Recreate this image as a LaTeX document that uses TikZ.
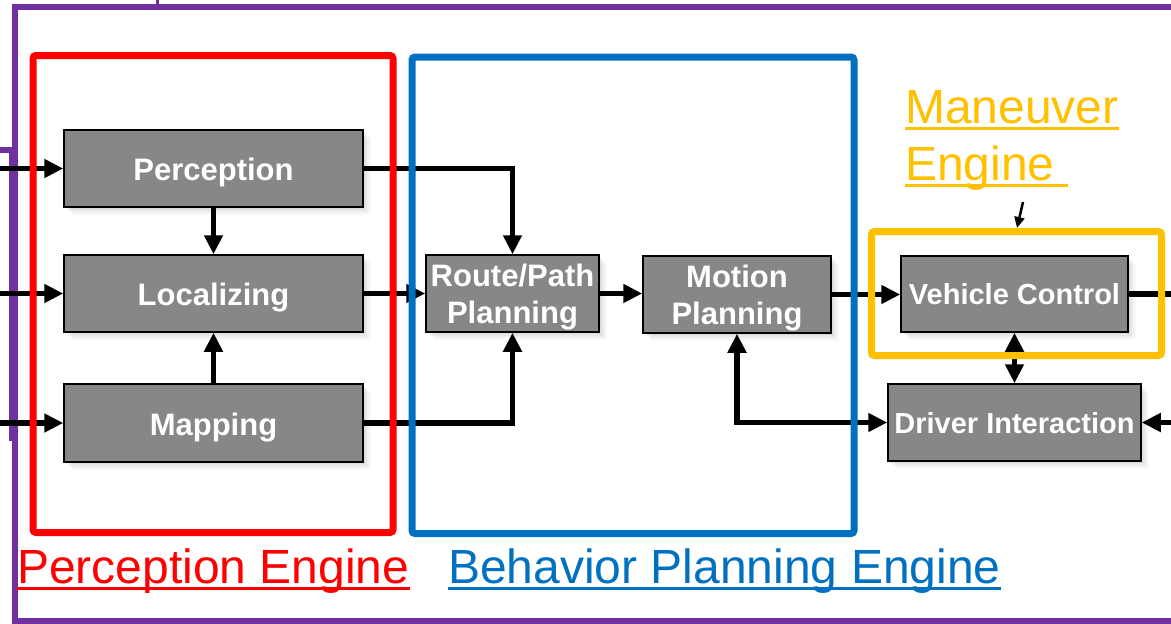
\documentclass[tikz,border=0pt]{standalone}
\usepackage{fontspec}
\usetikzlibrary{arrows.meta,shadows}
\newfontfamily\lsans{Liberation Sans}
\definecolor{boxgray}{RGB}{135,135,135}
\definecolor{engred}{RGB}{255,0,0}
\definecolor{engblue}{RGB}{0,112,192}
\definecolor{engyellow}{RGB}{255,192,0}
\definecolor{engpurple}{RGB}{112,48,160}
% one- and two-line block captions with a fixed box height, so that the
% capitals sit centred in the block
\newcommand\oneline[2][24pt]{\raisebox{0pt}[#1][0pt]{#2}}
\newcommand\twoline[2]{\raisebox{0pt}[60pt][0pt]{\begin{tabular}[b]{@{}c@{}}#1\\#2\end{tabular}}}
\begin{document}
\begin{tikzpicture}[x=1pt,y=-1pt,
  blk/.style={draw=black, line width=1.5pt, fill=boxgray, text=white,
    font=\lsans\bfseries\fontsize{31}{37}\selectfont, inner sep=0pt,
    drop shadow={opacity=0.10, shadow xshift=2pt, shadow yshift=-2pt},
    drop shadow={opacity=0.09, shadow xshift=4pt, shadow yshift=-4pt},
    drop shadow={opacity=0.07, shadow xshift=6pt, shadow yshift=-6pt},
    drop shadow={opacity=0.05, shadow xshift=8pt, shadow yshift=-8pt}},
  smallblk/.style={blk, font=\lsans\bfseries\fontsize{29}{35}\selectfont},
  conn/.style={draw=black, line width=5.5pt},
  arr/.style={conn, -{Triangle[length=19pt,width=18pt]}},
  darr/.style={conn, {Triangle[length=19pt,width=18pt]}-{Triangle[length=19pt,width=18pt]}},
  frame/.style={line width=7pt, rounded corners=3pt},
  lbl/.style={font=\lsans\fontsize{48}{57}\selectfont, inner sep=0pt, anchor=base west},
  ul/.style={line width=3pt},
]
\useasboundingbox (0,0) rectangle (1171,624);
\begin{scope}
\clip (0,0) rectangle (1171,624);

% outer system frame
\draw[engpurple, line width=6.5pt] (15,7) rectangle (1210,621);
\draw[engpurple, line width=3pt] (157,0) -- (157,7);
\draw[engpurple, line width=5.5pt] (0,150) -- (17,150);
\draw[engpurple, line width=5pt] (11,150) -- (11,441);

% processing blocks
\node[blk, minimum width=299pt, minimum height=77pt] (per) at (213.5,168.5) {\oneline{Perception}};
\node[blk, minimum width=299pt, minimum height=77pt] (loc) at (213.5,293.5) {\oneline{Localizing}};
\node[blk, minimum width=299pt, minimum height=78pt] (map) at (213.5,423) {\oneline{Mapping}};
\node[blk, minimum width=173pt, minimum height=77pt] (route) at (512.5,293.5) {\twoline{Route/Path}{Planning}};
\node[blk, minimum width=188pt, minimum height=77pt] (motion) at (737,294.5) {\twoline{Motion}{Planning}};
\node[smallblk, minimum width=227pt, minimum height=76pt] (vc) at (1014.5,294) {\oneline[21pt]{Vehicle Control}};
\node[smallblk, minimum width=253pt, minimum height=77pt] (di) at (1014.5,422.5) {\oneline[22pt]{Driver Interaction}};

% free ends of the external connectors
\coordinate (inP) at (0,168.5);
\coordinate (inL) at (0,293.5);
\coordinate (inM) at (0,423);
\coordinate (outVC) at (1180,294);
\coordinate (inDI) at (1180,422.5);
\coordinate (meFrom) at (1023,202);
\coordinate (meTo) at (1017,228);

% connectors
\draw[arr] (inP) -- (per.west);
\draw[arr] (inL) -- (loc.west);
\draw[arr] (inM) -- (map.west);
\draw[arr] (per.south) -- (loc.north);
\draw[arr] (map.north) -- (loc.south);
\draw[arr] (per.east) -| (route.north);
\draw[arr] (map.east) -| (route.south);
\draw[arr] (loc.east) -- (route.west);
\draw[arr] (route.east) -- (route.east -| motion.west);
\draw[arr] (motion.east) -- (motion.east -| vc.west);
\draw[conn] (vc.east) -- (outVC);
\draw[arr] (inDI) -- (di.east);
\draw[darr] (vc.south) -- (di.north);
\draw[darr] (motion.south) |- (di.west);
\draw[line width=2.5pt, -{Triangle[length=11pt,width=10pt]}] (meFrom) -- (meTo);

% engine frames
\draw[frame, engred] (33,55.5) rectangle (393,532.5);
\draw[frame, engblue] (412,57) rectangle (854,533.5);
\draw[frame, engyellow] (871.5,231.5) rectangle (1161.5,355.5);

% engine labels
\node[lbl, text=engred] (pe) at (17,583) {Perception Engine};
\draw[ul, engred] ([yshift=-5pt]pe.base west) -- ([yshift=-5pt]pe.base east);
\node[lbl, text=engblue] (bpe) at (448,583) {Behavior Planning Engine};
\draw[ul, engblue] ([yshift=-5pt]bpe.base west) -- ([yshift=-5pt]bpe.base east);
\node[lbl, text=engyellow] (me1) at (905,123) {Maneuver};
\draw[ul, engyellow] ([yshift=-5pt]me1.base west) -- ([yshift=-5pt]me1.base east);
\node[lbl, text=engyellow] (me2) at (905,180) {Engine};
\draw[ul, engyellow] ([yshift=-5pt]me2.base west) -- ([yshift=-5pt,xshift=13pt]me2.base east);
\end{scope}
\end{tikzpicture}
\end{document}
